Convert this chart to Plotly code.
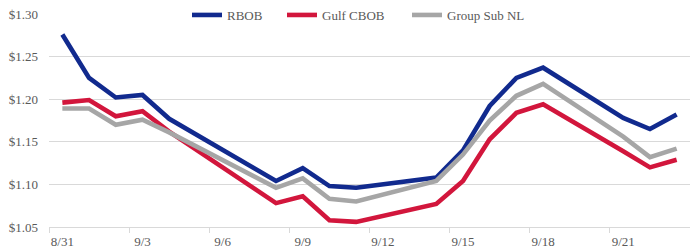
import plotly.graph_objects as go

dates = ["2020-08-31", "2020-09-01", "2020-09-02", "2020-09-03", "2020-09-04",
         "2020-09-08", "2020-09-09", "2020-09-10", "2020-09-11", "2020-09-14",
         "2020-09-15", "2020-09-16", "2020-09-17", "2020-09-18", "2020-09-21",
         "2020-09-22", "2020-09-23"]
rbob = [1.276, 1.225, 1.202, 1.205, 1.177, 1.104, 1.119, 1.098, 1.096, 1.108,
        1.140, 1.192, 1.225, 1.237, 1.178, 1.165, 1.182]
gulf_cbob = [1.196, 1.199, 1.180, 1.186, 1.162, 1.078, 1.086, 1.058, 1.056, 1.077,
             1.104, 1.153, 1.184, 1.194, 1.139, 1.120, 1.129]
group_sub_nl = [1.189, 1.189, 1.170, 1.176, 1.161, 1.096, 1.107, 1.083, 1.080, 1.104,
                1.135, 1.175, 1.204, 1.218, 1.156, 1.132, 1.142]

series = [("RBOB", rbob, "#112a8e", "legend", 187),
          ("Gulf CBOB", gulf_cbob, "#d2163c", "legend2", 282),
          ("Group Sub NL", group_sub_nl, "#a6a6a6", "legend3", 407)]

FONT = "Liberation Serif"
TXT = "#595959"

fig = go.Figure()
legends = {}
for name, vals, color, leg, lx in series:
    fig.add_trace(go.Scatter(x=dates, y=vals, name=name, mode="lines",
                             line=dict(color=color, width=4.6), legend=leg))
    legends[leg] = dict(orientation="h", xref="container", yref="container",
                        x=lx / 690, y=1 - 15 / 249, xanchor="left", yanchor="middle",
                        bgcolor="rgba(0,0,0,0)", itemwidth=30,
                        font=dict(family=FONT, size=13, color=TXT))

fig.update_layout(
    width=690, height=249,
    margin=dict(l=49, r=0, t=14, b=22, autoexpand=False),
    paper_bgcolor="white", plot_bgcolor="white",
    font=dict(family=FONT, size=13, color=TXT),
    showlegend=True,
    **legends,
)
fig.update_xaxes(
    type="date",
    range=["2020-08-30 12:00", "2020-09-23 12:00"],
    tick0="2020-08-31", dtick=3 * 86400000, tickformat="%-m/%-d",
    ticks="", showgrid=False,
    showline=True, linecolor="#d9d9d9", linewidth=1,
    minor=dict(tick0="2020-08-30 12:00", dtick=3 * 86400000,
               ticks="outside", ticklen=5, tickcolor="#d9d9d9", showgrid=False),
    tickfont=dict(family=FONT, size=13, color=TXT),
    ticklabelstandoff=2,
)
fig.update_yaxes(
    range=[1.05, 1.30], dtick=0.05, tickformat="$.2f",
    showgrid=True, gridcolor="#d9d9d9", gridwidth=1,
    zeroline=False, showline=False, ticks="",
    tickfont=dict(family=FONT, size=13, color=TXT),
    ticklabelstandoff=10,
)

fig.write_html("out.html", config={"displayModeBar": False},
               post_script="document.body.style.margin='0';")
